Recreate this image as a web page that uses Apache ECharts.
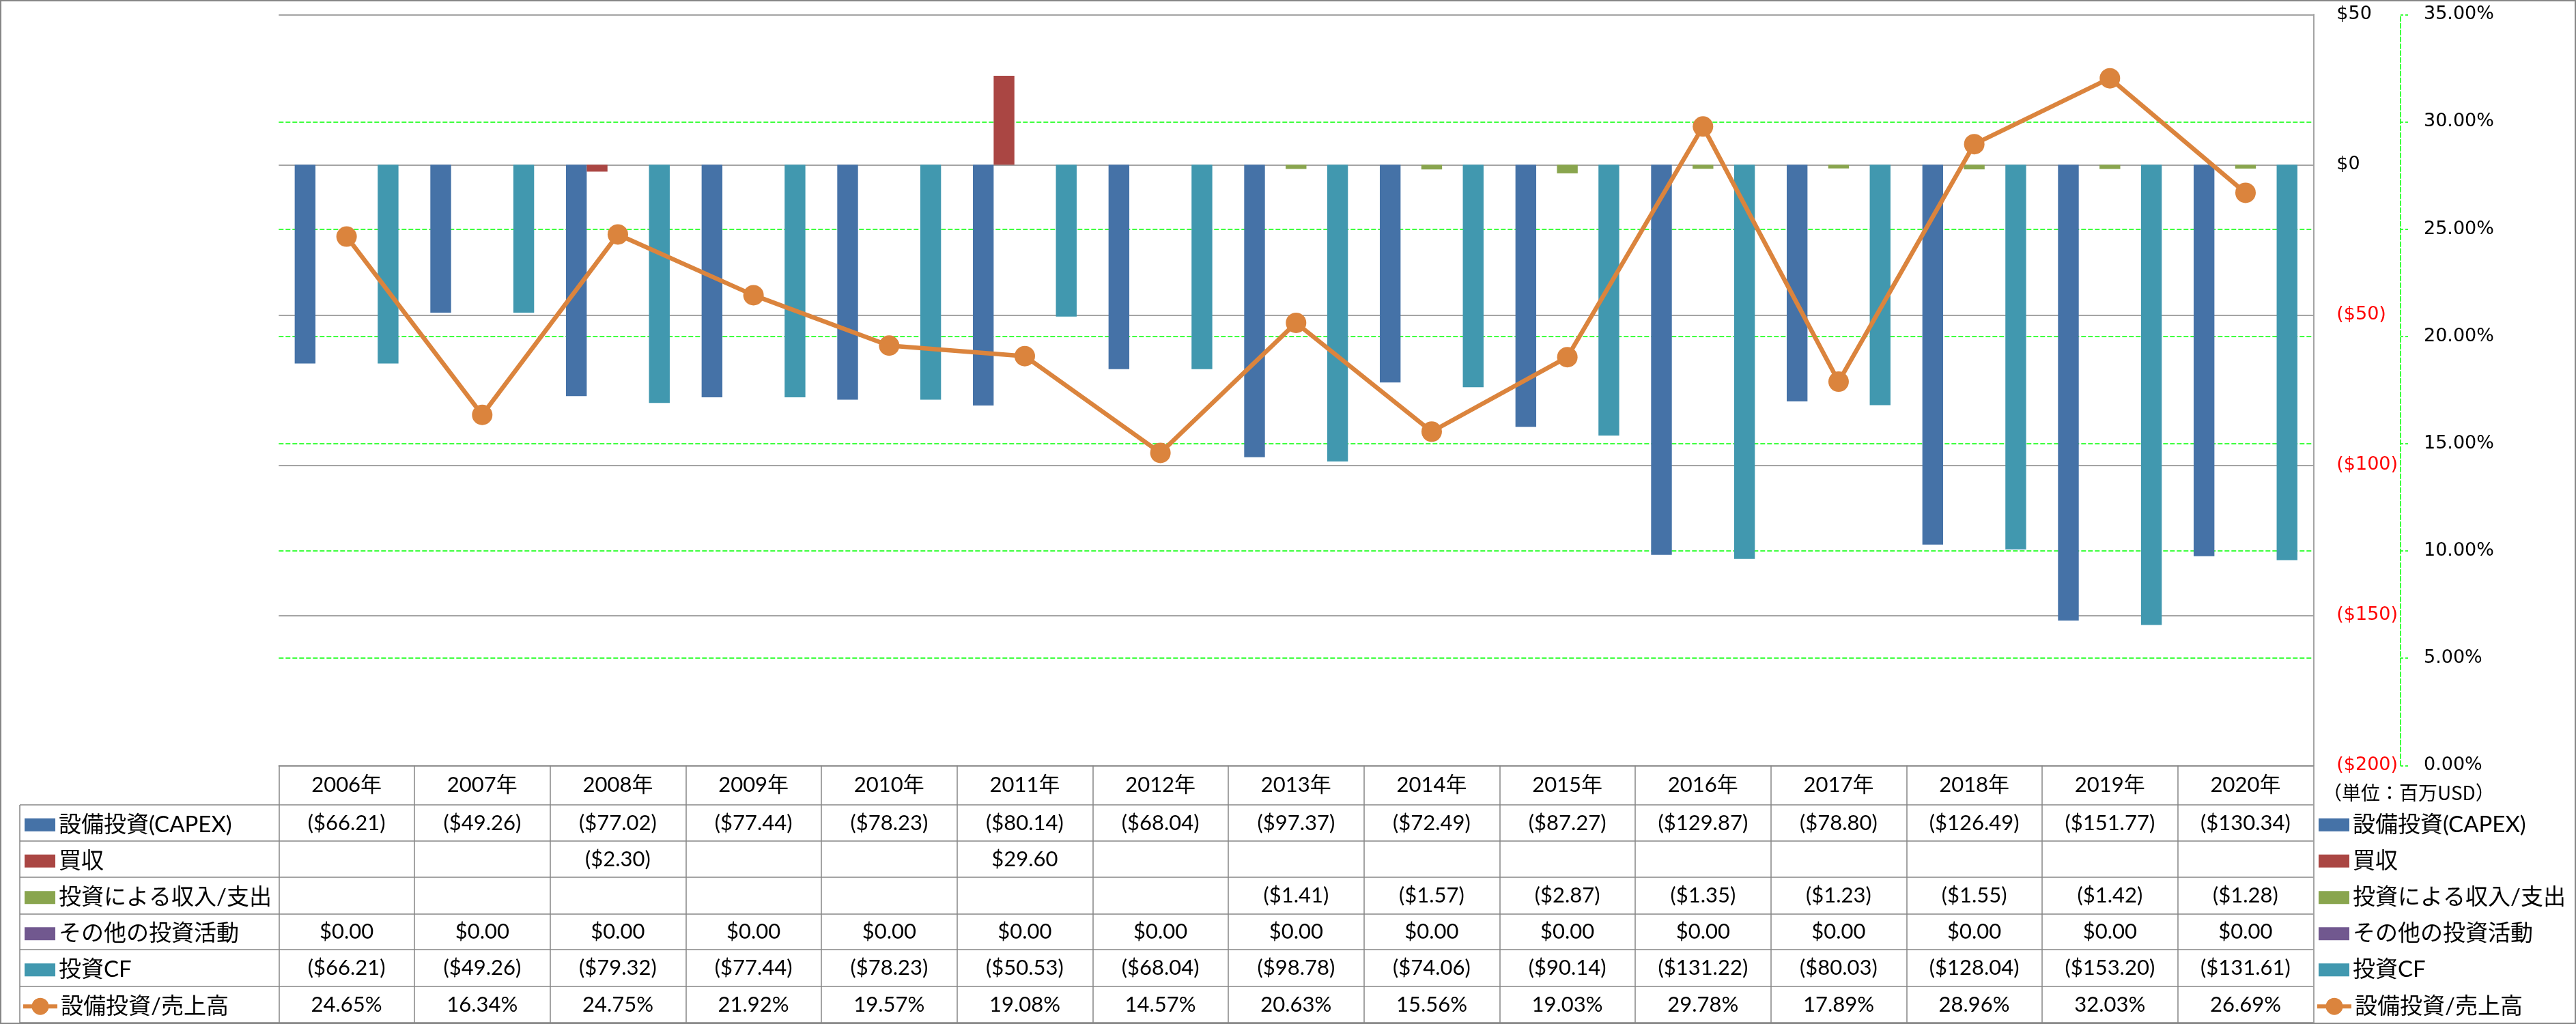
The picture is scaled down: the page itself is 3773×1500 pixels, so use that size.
<!DOCTYPE html>
<html><head><meta charset="utf-8">
<script src="https://cdn.jsdelivr.net/npm/echarts@6/dist/echarts.min.js"></script>
<style>html,body{margin:0;padding:0;background:#fff}#c{width:3773px;height:1500px}</style>
</head><body><div id="c"></div>
<script>
// ---- data ----
const years = ['2006年','2007年','2008年','2009年','2010年','2011年','2012年','2013年','2014年','2015年','2016年','2017年','2018年','2019年','2020年'];
const capex = [-66.21,-49.26,-77.02,-77.44,-78.23,-80.14,-68.04,-97.37,-72.49,-87.27,-129.87,-78.80,-126.49,-151.77,-130.34];
const acquisition = [null,null,-2.30,null,null,29.60,null,null,null,null,null,null,null,null,null];
const investIncome = [null,null,null,null,null,null,null,-1.41,-1.57,-2.87,-1.35,-1.23,-1.55,-1.42,-1.28];
const otherInvest = [0,0,0,0,0,0,0,0,0,0,0,0,0,0,0];
const investCF = [-66.21,-49.26,-79.32,-77.44,-78.23,-50.53,-68.04,-98.78,-74.06,-90.14,-131.22,-80.03,-128.04,-153.20,-131.61];
const capexRatio = [24.65,16.34,24.75,21.92,19.57,19.08,14.57,20.63,15.56,19.03,29.78,17.89,28.96,32.03,26.69];
const seriesNames = ['設備投資(CAPEX)','買収','投資による収入/支出','その他の投資活動','投資CF','設備投資/売上高'];
const unitLabel = '（単位：百万USD）';

// ---- layout / style ----
const GL = 408.3, GT = 21.3, GW = 2980, GH = 1100, GB = GT + GH, GR = GL + GW;
const rowLines = [1179, 1232, 1285, 1339, 1391, 1445, 1498];
const TABLE_LEFT = 29;
const gray = '#868686', green = '#00ff00';
const colors = ['#4572A7','#AA4643','#89A54E','#71588F','#4198AF','#DB843D'];
const tableFont = 'Lato, "Noto Sans CJK JP", sans-serif';
const axisFont = '"DejaVu Sans", sans-serif';
const lineIcon = 'path://M0,9.5L50,9.5L50,15.5L0,15.5Z M37.5,12.5A12.5,12.5 0 1 1 12.5,12.5A12.5,12.5 0 1 1 37.5,12.5Z';

function money(v){ if (v == null) return ''; return v < 0 ? '($' + Math.abs(v).toFixed(2) + ')' : '$' + v.toFixed(2); }
function pct(v){ return v == null ? '' : v.toFixed(2) + '%'; }
const rows = [[capex, money],[acquisition, money],[investIncome, money],[otherInvest, money],[investCF, money],[capexRatio, pct]];
function rowCenter(i){ return (rowLines[i] + rowLines[i+1]) / 2; }

const xAxes = [{
  type: 'category', data: years, gridIndex: 0, position: 'bottom',
  axisLine: { onZero: false, lineStyle: { color: gray, width: 1.5 } },
  axisTick: { show: true, interval: 0, length: 1498 - GB, lineStyle: { color: gray, width: 1.5 } },
  axisLabel: { interval: 0, margin: (GB + rowLines[0]) / 2 - GB, verticalAlign: 'middle', fontFamily: tableFont, fontSize: 31, color: '#000' },
  splitLine: { show: false }
}];
rows.forEach(function(r, i){
  xAxes.push({
    type: 'category', data: years, gridIndex: 0, position: 'bottom', offset: rowCenter(i) - GB,
    axisLine: { show: false, onZero: false }, axisTick: { show: false }, splitLine: { show: false },
    axisLabel: { interval: 0, margin: 0, verticalAlign: 'middle', fontFamily: tableFont, fontSize: 31, color: '#000',
      formatter: function(val, idx){ return r[1](r[0][idx]); } }
  });
});

const graphics = [
  { type: 'rect', shape: { x: 1, y: 1, width: 3771, height: 1498 }, style: { fill: 'none', stroke: gray, lineWidth: 2 }, silent: true },
  { type: 'line', shape: { x1: TABLE_LEFT, y1: rowLines[0], x2: TABLE_LEFT, y2: rowLines[rowLines.length-1] }, style: { stroke: gray, lineWidth: 1.5 }, silent: true },
  { type: 'text', x: 3402, y: 1161, style: { text: unitLabel, fontSize: 28, fontFamily: '"Noto Sans CJK JP", sans-serif', fill: '#000', verticalAlign: 'middle', align: 'left' }, silent: true }
];
rowLines.forEach(function(y){
  graphics.push({ type: 'line', shape: { x1: TABLE_LEFT, y1: y, x2: GR, y2: y }, style: { stroke: gray, lineWidth: 1.5 }, silent: true });
});

// one legend per table row, on the left (row headers) and on the right
const TEXT_H = 27.7;
const legends = [];
[36, 3396].forEach(function(left){
  seriesNames.forEach(function(n, i){
    const isLine = i === 5;
    const w = isLine ? 50 : 45, h = isLine ? 25 : 19;
    const over = Math.max(0, (TEXT_H - h) / 2);
    legends.push({
      orient: 'horizontal', left: isLine ? left - 2 : left, top: rowCenter(i) - h / 2 - over, padding: 0,
      itemWidth: w, itemHeight: h, selectedMode: false,
      textStyle: { fontSize: 33, fontFamily: tableFont, color: '#000' },
      data: [{ name: n, icon: isLine ? lineIcon : 'rect' }]
    });
  });
});

const barData = [capex, acquisition, investIncome, otherInvest, investCF];
const series = barData.map(function(d, i){
  return { name: seriesNames[i], type: 'bar', data: d, xAxisIndex: 0, yAxisIndex: 0,
    barGap: '0%', barCategoryGap: '23.5%', itemStyle: { color: colors[i] } };
});
series.push({ name: seriesNames[5], type: 'line', data: capexRatio, xAxisIndex: 0, yAxisIndex: 1,
  symbol: 'circle', symbolSize: 30, z: 5,
  lineStyle: { color: colors[5], width: 6.5 }, itemStyle: { color: colors[5] } });

const option = {
  animation: false,
  backgroundColor: '#fff',
  grid: { left: GL, top: GT, width: GW, height: GH, containLabel: false },
  xAxis: xAxes,
  yAxis: [{
    type: 'value', min: -200, max: 50, interval: 50, position: 'right',
    axisLine: { show: true, lineStyle: { color: gray, width: 1.5 } },
    axisTick: { show: false },
    axisLabel: { margin: 34, fontFamily: axisFont, fontSize: 27,
      formatter: function(v){ return v < 0 ? '($' + Math.abs(v) + ')' : '$' + v; },
      color: function(v){ return Number(v) < 0 ? '#ff0000' : '#000'; } },
    splitLine: { show: true, lineStyle: { color: gray, width: 1.5 } }
  }, {
    type: 'value', min: 0, max: 35, interval: 5, position: 'right', offset: 3516 - GR,
    axisLine: { show: true, lineStyle: { color: green, width: 1.5, type: [7, 3] } },
    axisTick: { show: true, length: 12, lineStyle: { color: green, width: 1.5, type: [4, 3] } },
    axisLabel: { margin: 34, fontFamily: axisFont, fontSize: 27, color: '#000',
      formatter: function(v){ return v.toFixed(2) + '%'; } },
    splitLine: { show: true, showMinLine: false, showMaxLine: false, lineStyle: { color: green, width: 1.5, type: [7, 3] } }
  }],
  legend: legends,
  graphic: graphics,
  series: series
};
const chart = echarts.init(document.getElementById('c'), null, { renderer: 'canvas' });
chart.setOption(option);
</script>
</body></html>
